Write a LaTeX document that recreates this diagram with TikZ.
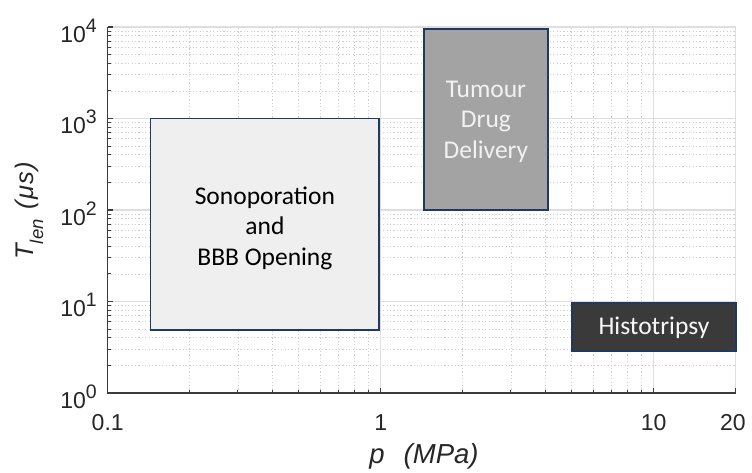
\documentclass[tikz,border=0pt]{standalone}
\usepackage{fontspec}
\setmainfont{Liberation Sans}
\newfontfamily\boxfont{Carlito}
\usetikzlibrary{fit}

\definecolor{axisgray}{HTML}{3C3C3C}
\definecolor{gridmajor}{HTML}{DEDEDE}
\definecolor{gridminor}{HTML}{CFCFCF}
\definecolor{edgeblue}{HTML}{1F3A60}
\definecolor{sonofill}{HTML}{EFEFEF}
\definecolor{tumourfill}{HTML}{A3A3A3}
\definecolor{histofill}{HTML}{3A3A3A}
\definecolor{ticklabel}{HTML}{262626}

\tikzset{
  minorgrid/.style={gridminor, line width=0.9pt, dash pattern=on 1.2pt off 2.2pt},
  majorgrid/.style={gridmajor, line width=1.2pt},
  axisline/.style={axisgray, line width=1.2pt},
  regionbox/.style={draw=edgeblue, line width=1.3pt, inner sep=0pt, outer sep=0pt},
  regiontext/.style={inner sep=0pt, align=center,
    font={\boxfont\fontsize{25.5}{30.6}\selectfont}},
  ytick/.style={anchor=base east, inner sep=0pt, text=ticklabel,
    font={\fontsize{23}{26}\selectfont}},
  xtick/.style={anchor=base, inner sep=0pt, text=ticklabel,
    font={\fontsize{23}{26}\selectfont}},
}
% power-of-ten tick label
\newcommand{\decade}[1]{10\raisebox{10pt}{\fontsize{19.5}{22}\selectfont #1}}

\begin{document}
\begin{tikzpicture}[x=1pt,y=-1pt]
\useasboundingbox (0,0) rectangle (752,472);

% log-log axes: x = log10(p), y = log10(T)
\begin{scope}[xshift=380.7pt,yshift=-393pt,x=273pt,y=91.5pt]
  \def\xmax{1.30103}

  % minor grid
  \foreach \d in {-1,0}{\foreach \m in {2,...,9}{
    \draw[minorgrid] ({\d+log10(\m)},0) -- ({\d+log10(\m)},4);}}
  \foreach \d in {0,...,3}{\foreach \m in {2,...,9}{
    \draw[minorgrid] (-1,{\d+log10(\m)}) -- (\xmax,{\d+log10(\m)});}}

  % major grid and light frame
  \foreach \d in {1,2,3}{\draw[majorgrid] (-1,\d) -- (\xmax,\d);}
  \foreach \d in {0,1}{\draw[majorgrid] (\d,0) -- (\d,4);}
  \draw[majorgrid] (-1,4) -- (\xmax,4) -- (\xmax,0);

  % region corners
  \coordinate (sonoA) at ({log10(0.1417)},3);
  \coordinate (sonoB) at ({log10(0.986)},{log10(4.9)});
  \coordinate (tumA) at ({log10(1.44)},{log10(9500)});
  \coordinate (tumB) at ({log10(4.1)},2);
  \coordinate (histA) at ({log10(5.02)},{log10(9.65)});
  \coordinate (histB) at (\xmax,{log10(2.88)});

  \node[regionbox, fill=sonofill, fit=(sonoA)(sonoB)] (sono) {};
  \node[regionbox, fill=tumourfill, fit=(tumA)(tumB)] (tumour) {};
  \node[regionbox, fill=histofill, fit=(histA)(histB)] (histo) {};

  \node[regiontext, text=black] (sonotext) at ([yshift=-4pt]sono.center)
    {Sonoporation\\and\\BBB Opening};
  \node[regiontext, text=white!90!gray] (tumourtext) at ([yshift=-2pt]tumour.center)
    {Tumour\\Drug\\Delivery};
  \node[regiontext, text=white!95!gray] (histotext) at ([yshift=-1pt]histo.center)
    {Histotripsy};

  % axes
  \draw[axisline] (-1,4) -- (-1,0) -- (\xmax,0);
  \foreach \d in {0,...,4}{\draw[axisline] (-1,\d) -- ++(5pt,0);}
  \foreach \d in {0,...,3}{\foreach \m in {2,...,9}{
    \draw[axisline, line width=1pt] (-1,{\d+log10(\m)}) -- ++(3pt,0);}}
  \foreach \xx in {-1,0,1,\xmax}{\draw[axisline] (\xx,0) -- ++(0,5pt);}
  \foreach \d in {-1,0}{\foreach \m in {2,...,9}{
    \draw[axisline, line width=1pt] ({\d+log10(\m)},0) -- ++(0,3pt);}}

  % y tick labels
  \foreach \d in {0,...,4}{
    \node[ytick] (ylab\d) at ([xshift=-10.7pt,yshift=-15pt]-1,\d) {\decade{\d}};}

  % x tick labels
  \node[xtick] (xl1) at ([yshift=-37pt]-1,0) {0.1};
  \node[xtick] (xl2) at ([yshift=-37pt]0,0) {1};
  \node[xtick] (xl3) at ([yshift=-37pt]1,0) {10};
  \node[xtick] (xl4) at ([xshift=-3pt,yshift=-37pt]\xmax,0) {20};
\end{scope}

% axis titles
\node[rotate=90, anchor=base, inner sep=0pt, text=ticklabel,
      font={\fontsize{25.5}{30}\selectfont\itshape}] (ytitle) at (33,211)
  {T\raisebox{-10pt}{\fontsize{18.5}{22}\selectfont l\kern0.5pt e\kern0.5pt n}\hspace{9pt}(\kern1.5pt μ\kern1.5pt s\kern1pt)};
\node[anchor=base, inner sep=0pt, text=ticklabel,
      font={\fontsize{27.5}{32}\selectfont\itshape}] (xtitle) at (424,463)
  {p\hspace{19pt}(MPa)};
\end{tikzpicture}
\end{document}
